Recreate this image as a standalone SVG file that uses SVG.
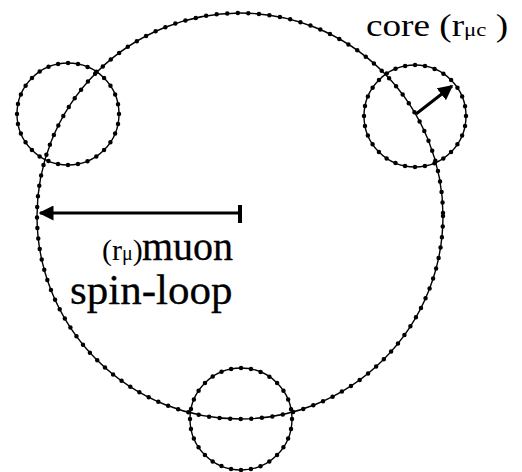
<svg xmlns="http://www.w3.org/2000/svg" width="522" height="472" viewBox="0 0 522 472">
<style>
.line{fill:none;stroke:#000;stroke-width:1.4}
.dots{fill:none;stroke:#000;stroke-width:4.5;stroke-linecap:round}
.arr{stroke:#000;stroke-width:3;fill:none}
text{font-family:Liberation Serif;fill:#000}
.heavy{stroke:#000;stroke-width:0.3}
</style>
<defs>
<marker id="ah" viewBox="0 0 10 10" refX="9" refY="5" markerWidth="5" markerHeight="5" orient="auto-start-reverse" markerUnits="strokeWidth">
<path d="M0,0 L10,5 L0,10 z" fill="#000"/>
</marker>
</defs>
<rect width="522" height="472" fill="#fff"/>
<g id="spin-loop">
<circle class="line" cx="240" cy="216" r="203"/>
<circle class="dots" cx="240" cy="216" r="203" stroke-dasharray="0 10.6"/>
</g>
<g id="core-left">
<circle class="line" cx="68" cy="114" r="51"/>
<circle class="dots" cx="68" cy="114" r="51" stroke-dasharray="0 10"/>
</g>
<g id="core-right">
<circle class="line" cx="415" cy="116" r="51"/>
<circle class="dots" cx="415" cy="116" r="51" stroke-dasharray="0 10"/>
</g>
<g id="core-bottom">
<circle class="line" cx="241" cy="419" r="51"/>
<circle class="dots" cx="241" cy="419" r="51" stroke-dasharray="0 10"/>
</g>
<g id="connectors">
<line class="arr" x1="240" y1="213" x2="40" y2="213" marker-end="url(#ah)"/>
<line x1="240" y1="205" x2="240" y2="223" stroke="#000" stroke-width="4"/>
<line class="arr" x1="416" y1="114" x2="452" y2="86" marker-end="url(#ah)"/>
</g>
<g id="labels">
<text transform="translate(366,36) scale(1.2,1)" x="0" y="0" font-size="31">core (r<tspan font-size="19">μc</tspan> )</text>
<text x="102" y="260"><tspan font-size="30">(r</tspan><tspan font-size="20">μ</tspan><tspan font-size="30">)</tspan></text>
<text class="heavy" x="142" y="260" font-size="40">muon</text>
<text class="heavy" x="70" y="304" font-size="43">spin-loop</text>
</g>
</svg>
